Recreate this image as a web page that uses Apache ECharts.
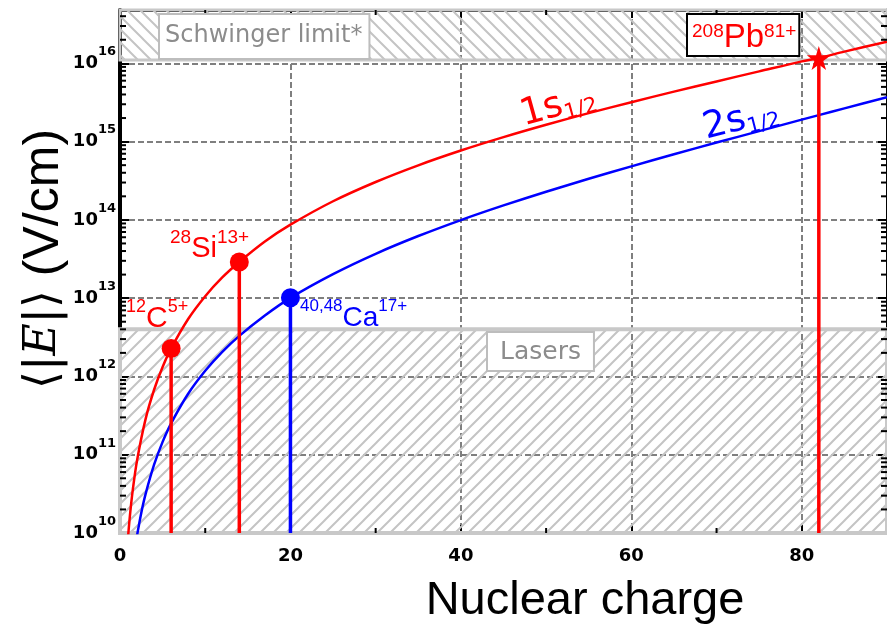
<!DOCTYPE html>
<html>
<head>
<meta charset="utf-8">
<script src="https://cdn.jsdelivr.net/npm/echarts@6/dist/echarts.min.js"></script>
<style>
  html, body { margin: 0; padding: 0; background: #ffffff; }
  #chart { width: 887px; height: 627px; }
</style>
</head>
<body>
<div id="chart"></div>
<script>
// Mean field strength <|E|> (V/cm) seen by the electron vs. nuclear charge Z
const z1s = [0.95, 1.2, 1.5, 2, 3, 4, 5, 6, 8, 10, 12, 14, 17, 20, 25, 30, 35, 40, 45, 50, 55, 60, 65, 70, 75, 80, 82, 85, 90];
const e1s = [9.1e9, 1.82e10, 3.56e10, 8.45e10, 2.85e11, 6.76e11, 1.32e12, 2.28e12, 5.42e12, 1.06e13, 1.84e13, 2.9e13,
             5.29e13, 8.68e13, 1.73e14, 3.05e14, 4.98e14, 7.69e14, 1.14e15, 1.64e15, 2.31e15, 3.19e15, 4.35e15,
             5.87e15, 7.89e15, 1.06e16, 1.17e16, 1.41e16, 1.89e16];

const z2s = [2, 2.5, 3, 4, 5, 6, 8, 10, 12, 14, 17, 20, 25, 30, 35, 40, 45, 50, 55, 60, 65, 70, 75, 80, 82, 85, 90];
const e2s = [9.3e9, 1.82e10, 3.14e10, 7.45e10, 1.46e11, 2.52e11, 6.01e11, 1.18e12, 2.06e12, 3.3e12, 6.01e12, 1.01e13,
             2.03e13, 3.69e13, 6.22e13, 9.95e13, 1.53e14, 2.29e14, 3.35e14, 4.83e14, 6.88e14, 9.72e14, 1.36e15,
             1.91e15, 2.18e15, 2.66e15, 3.7e15];

// Highlighted hydrogen-like ions
const ionZ1s = [6, 14];          // 12C5+, 28Si13+
const ionE1s = [2.28e12, 2.9e13];
const ionZ2s = [20];             // 40,48Ca17+
const ionE2s = [1.01e13];
const pbZ = [82];                // 208Pb81+
const pbE = [1.17e16];

// Field ranges
const laserMax = 4.0e12;
const schwingerMin = 1.1e16;

// Axes
const xMin = 0, xMax = 90;
const yMin = 1e10, yMax = 4.8e16;
const xMinorTicks = [10, 30, 50, 70];
const yDecades = [10, 11, 12, 13, 14, 15, 16];
const yMantissas = [2, 3, 4, 5, 6, 7, 8, 9];

const RED = '#ff0000';
const BLUE = '#0000ff';

function hatch(rising) {
  const s = 13;
  const c = document.createElement('canvas');
  c.width = s; c.height = s;
  const g = c.getContext('2d');
  g.strokeStyle = '#c4c4c4';
  g.lineWidth = 2;
  g.beginPath();
  if (rising) {
    g.moveTo(-2, s + 2); g.lineTo(s + 2, -2);
    g.moveTo(-3, 3); g.lineTo(3, -3);
    g.moveTo(s - 3, s + 3); g.lineTo(s + 3, s - 3);
  } else {
    g.moveTo(-2, -2); g.lineTo(s + 2, s + 2);
    g.moveTo(s - 3, -3); g.lineTo(s + 3, 3);
    g.moveTo(-3, s - 3); g.lineTo(3, s + 3);
  }
  g.stroke();
  return { image: c, repeat: 'repeat' };
}

function powLabel(v) {
  const p = Math.log10(v);
  const n = Math.round(p);
  if (Math.abs(p - n) > 1e-6) return '';
  return '{b|10}{s|' + n + '}';
}

const yMinor = [];
yDecades.forEach(n => yMantissas.forEach(k => {
  const v = k * Math.pow(10, n);
  if (v < yMax) yMinor.push([xMin, v]);
}));

const pairs = (xs, ys) => xs.map((x, i) => [x, ys[i]]);

const dropSeries = [];
[[ionZ1s, ionE1s, RED], [ionZ2s, ionE2s, BLUE], [pbZ, pbE, RED]].forEach(([zs, es, col]) => {
  zs.forEach((z, i) => {
    dropSeries.push({
      type: 'line', z: 5, symbol: 'none', silent: true, clip: true,
      data: [[z, es[i]], [z, yMin]],
      lineStyle: { color: col, width: 3.5 }
    });
  });
});

const axisLineStyle = (w) => ({ show: true, onZero: false, lineStyle: { color: '#000', width: w } });
const tickStyle = (len) => ({ show: true, inside: true, length: len, lineStyle: { color: '#000', width: 2 } });
const gridLine = { show: true, lineStyle: { color: '#7f7f7f', width: 2, type: [6, 3] } };

const STAR = 'path://M50,0 L61,35 L98,35 L68,57 L79,91 L50,70 L21,91 L32,57 L2,35 L39,35 Z';

const supRich = (big, small, lh, col) => ({
  p: { fontFamily: 'Liberation Sans', fontSize: small, fill: col, lineHeight: small, verticalAlign: 'top' },
  c: { fontFamily: 'Liberation Sans', fontSize: big, fill: col, lineHeight: lh }
});

const subRich = (col) => ({
  a: { fontFamily: 'DejaVu Sans', fontSize: 37, fill: col, lineHeight: 40 },
  b: { fontFamily: 'DejaVu Sans', fontSize: 21, fill: col, lineHeight: 22, verticalAlign: 'bottom' }
});

const option = {
  animation: false,
  backgroundColor: '#ffffff',
  grid: { left: 120, top: 10, width: 768, height: 523, containLabel: false },
  xAxis: [
    {
      type: 'value', min: xMin, max: xMax, interval: 20, position: 'bottom',
      axisLine: axisLineStyle(4), axisTick: tickStyle(8),
      axisLabel: {
        margin: 14, color: '#000', fontFamily: 'DejaVu Sans', fontWeight: 'bold', fontSize: 18,
        showMaxLabel: false, formatter: v => (v % 20 === 0 ? String(v) : '')
      },
      splitLine: gridLine
    },
    {
      type: 'value', min: xMin, max: xMax, interval: 20, position: 'top',
      axisLine: axisLineStyle(3), axisTick: tickStyle(8),
      axisLabel: { show: false }, splitLine: { show: false }
    }
  ],
  yAxis: [
    {
      type: 'log', logBase: 10, min: yMin, max: yMax, position: 'left',
      axisLine: axisLineStyle(4), axisTick: tickStyle(9),
      axisLabel: {
        margin: 4, formatter: powLabel,
        rich: {
          b: { fontFamily: 'DejaVu Sans', fontWeight: 'bold', fontSize: 18, color: '#000', lineHeight: 36 },
          s: { fontFamily: 'DejaVu Sans', fontWeight: 'bold', fontSize: 13, color: '#000', lineHeight: 13, verticalAlign: 'top' }
        }
      },
      splitLine: gridLine, minorTick: { show: false }
    },
    {
      type: 'log', logBase: 10, min: yMin, max: yMax, position: 'right',
      axisLine: axisLineStyle(3), axisTick: tickStyle(9),
      axisLabel: { show: false }, splitLine: { show: false }
    }
  ],
  series: [
    {
      name: 'bands', type: 'line', data: [], z: 1, silent: true,
      markArea: {
        silent: true,
        label: { show: false },
        data: [
          [{ yAxis: yMin, itemStyle: { color: hatch(true), borderColor: '#c8c8c8', borderWidth: 4 } }, { yAxis: laserMax }],
          [{ yAxis: schwingerMin, itemStyle: { color: hatch(false), borderColor: '#c8c8c8', borderWidth: 3 } }, { yAxis: yMax }]
        ]
      }
    },
    {
      name: '1s1/2', type: 'line', z: 4, symbol: 'none', smooth: 0.3, clip: true,
      data: pairs(z1s, e1s), lineStyle: { color: RED, width: 2.5 }
    },
    {
      name: '2s1/2', type: 'line', z: 4, symbol: 'none', smooth: 0.3, clip: true,
      data: pairs(z2s, e2s), lineStyle: { color: BLUE, width: 2.5 }
    },
    ...dropSeries,
    {
      type: 'scatter', z: 6, symbol: 'circle', symbolSize: 19,
      data: pairs(ionZ1s, ionE1s), itemStyle: { color: RED, opacity: 1 }
    },
    {
      type: 'scatter', z: 6, symbol: 'circle', symbolSize: 19,
      data: pairs(ionZ2s, ionE2s), itemStyle: { color: BLUE, opacity: 1 }
    },
    {
      type: 'scatter', z: 6, symbol: STAR, symbolSize: 24,
      data: pairs(pbZ, pbE), itemStyle: { color: RED, opacity: 1 }
    },
    {
      // log-spaced minor ticks on the left and right frame
      type: 'custom', z: 8, silent: true, data: yMinor,
      renderItem: (params, api) => {
        const v = api.value(1);
        const l = api.coord([xMin, v]);
        const r = api.coord([xMax, v]);
        return {
          type: 'group', children: [
            { type: 'line', shape: { x1: l[0], y1: l[1], x2: l[0] + 6, y2: l[1] }, style: { stroke: '#000', lineWidth: 2 } },
            { type: 'line', shape: { x1: r[0] - 6, y1: r[1], x2: r[0], y2: r[1] }, style: { stroke: '#000', lineWidth: 2 } }
          ]
        };
      }
    },
    {
      // minor ticks on the bottom and top frame
      type: 'custom', z: 8, silent: true, data: xMinorTicks.map(z => [z, yMin]),
      renderItem: (params, api) => {
        const z = api.value(0);
        const b = api.coord([z, yMin]);
        const t = api.coord([z, yMax]);
        return {
          type: 'group', children: [
            { type: 'line', shape: { x1: b[0], y1: b[1], x2: b[0], y2: b[1] - 5 }, style: { stroke: '#000', lineWidth: 2 } },
            { type: 'line', shape: { x1: t[0], y1: t[1], x2: t[0], y2: t[1] + 5 }, style: { stroke: '#000', lineWidth: 2 } }
          ]
        };
      }
    }
  ],
  graphic: [
    {
      type: 'text', x: 44, y: 259, rotation: Math.PI / 2, z: 10,
      style: {
        text: '{m|\u27E8|}{e|E}{m||\u27E9}{s| (V/cm)}',
        align: 'center', verticalAlign: 'middle',
        rich: {
          m: { fontFamily: 'DejaVu Sans', fontSize: 46, fill: '#000', lineHeight: 56 },
          e: { fontFamily: 'DejaVu Serif', fontStyle: 'italic', fontSize: 44, fill: '#000', lineHeight: 56 },
          s: { fontFamily: 'Liberation Sans', fontSize: 50, fill: '#000', lineHeight: 56 }
        }
      }
    },
    {
      type: 'text', x: 585, y: 601, z: 10,
      style: { text: 'Nuclear charge', fontFamily: 'Liberation Sans', fontSize: 47, fill: '#000', align: 'center', verticalAlign: 'middle' }
    },
    {
      type: 'text', x: 160, y: 15, z: 10,
      style: {
        text: 'Schwinger limit*', fontFamily: 'DejaVu Sans', fontSize: 24, fill: '#8c8c8c',
        align: 'left', verticalAlign: 'top', lineHeight: 30,
        backgroundColor: '#ffffff', borderColor: '#bdbdbd', borderWidth: 2, padding: [6, 6, 7, 5]
      }
    },
    {
      type: 'text', x: 488, y: 333, z: 10,
      style: {
        text: 'Lasers', fontFamily: 'DejaVu Sans', fontSize: 25, fill: '#8c8c8c',
        align: 'left', verticalAlign: 'top', lineHeight: 30,
        backgroundColor: '#ffffff', borderColor: '#bdbdbd', borderWidth: 2, padding: [4, 12, 3, 12]
      }
    },
    {
      type: 'text', x: 688, y: 15, z: 10,
      style: {
        text: '{p|208}{c|Pb}{p|81+}',
        align: 'left', verticalAlign: 'top',
        backgroundColor: '#ffffff', borderColor: '#000000', borderWidth: 2, padding: [7, 2, 1, 4],
        rich: supRich(33, 19, 32, RED)
      }
    },
    {
      type: 'text', x: 126, y: 319, z: 10,
      style: { text: '{p|12}{c|C}{p|5+}', align: 'left', verticalAlign: 'middle', rich: supRich(30, 18, 42, RED) }
    },
    {
      type: 'text', x: 170, y: 249, z: 10,
      style: { text: '{p|28}{c|Si}{p|13+}', align: 'left', verticalAlign: 'middle', rich: supRich(29, 19, 42, RED) }
    },
    {
      type: 'text', x: 300, y: 318, z: 10,
      style: { text: '{p|40,48}{c|Ca}{p|17+}', align: 'left', verticalAlign: 'middle', rich: supRich(28, 17, 40, BLUE) }
    },
    {
      type: 'text', x: 558, y: 106, rotation: 0.27, z: 10,
      style: { text: '{a|1s}{b|1/2}', align: 'center', verticalAlign: 'middle', rich: subRich(RED) }
    },
    {
      type: 'text', x: 741, y: 120, rotation: 0.25, z: 10,
      style: { text: '{a|2s}{b|1/2}', align: 'center', verticalAlign: 'middle', rich: subRich(BLUE) }
    }
  ]
};

const chart = echarts.init(document.getElementById('chart'), null, { renderer: 'canvas' });
chart.setOption(option);
</script>
</body>
</html>
